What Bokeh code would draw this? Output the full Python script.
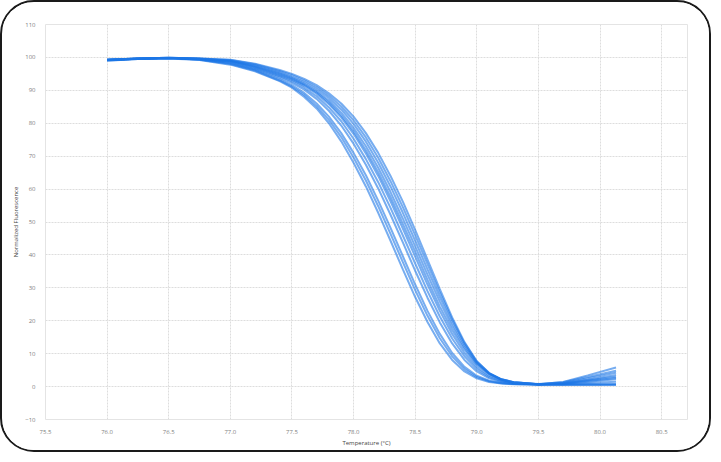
from bokeh.plotting import figure
from bokeh.embed import file_html
from bokeh.resources import INLINE
from bokeh.models import FixedTicker, NumeralTickFormatter, Range1d

# Temperature grid (°C)
temps = [76.0, 76.25, 76.5, 76.75,
         77.0, 77.2, 77.4, 77.5, 77.6, 77.7, 77.8, 77.9, 78.0, 78.1, 78.2,
         78.3, 78.4, 78.5, 78.6, 78.7, 78.8, 78.9, 79.0, 79.1, 79.2, 79.3,
         79.5, 79.7, 79.9, 80.13]

# Normalized fluorescence of each well
well_a = [99.0, 99.5, 99.7, 99.2,
          97.8, 95.8, 92.8, 90.8, 88.0, 84.5, 80.0, 74.5, 68.0, 60.8, 52.8,
          44.3, 35.6, 27.2, 19.6, 13.1, 8.1, 4.6, 2.5, 1.4, 0.9, 0.7,
          0.6, 0.5, 0.5, 0.5]
well_b1 = [99.1, 99.5, 99.8, 99.3,
           98.0, 96.0, 93.0, 91.1, 88.6, 85.2, 81.0, 75.8, 69.6, 62.6, 54.8,
           46.4, 37.8, 29.3, 21.5, 14.7, 9.2, 5.3, 2.9, 1.6, 1.0, 0.8,
           0.6, 0.6, 0.7, 0.8]
well_b2 = [99.2, 99.6, 99.8, 99.4,
           98.2, 96.3, 93.4, 91.6, 89.2, 86.0, 82.0, 77.0, 71.0, 64.2, 56.5,
           48.2, 39.6, 31.0, 23.0, 16.0, 10.2, 6.0, 3.3, 1.8, 1.1, 0.8,
           0.6, 0.7, 1.1, 1.5]
well_c1 = [99.2, 99.6, 99.8, 99.4,
           98.4, 96.5, 93.9, 92.3, 90.2, 87.4, 83.8, 79.3, 73.8, 67.4, 60.2,
           52.2, 43.8, 35.2, 27.0, 19.5, 13.1, 8.1, 4.6, 2.5, 1.4, 0.9,
           0.6, 0.8, 1.5, 2.2]
well_c2 = [99.2, 99.6, 99.8, 99.5,
           98.6, 96.8, 94.3, 92.8, 90.8, 88.2, 84.8, 80.6, 75.3, 69.1, 62.1,
           54.3, 45.9, 37.4, 29.0, 21.3, 14.6, 9.2, 5.3, 2.9, 1.6, 1.0,
           0.6, 0.9, 1.9, 3.0]
well_d1 = [99.2, 99.6, 99.8, 99.5,
           98.8, 97.0, 94.6, 93.2, 91.4, 89.0, 85.8, 81.8, 76.8, 70.8, 64.0,
           56.3, 48.0, 39.5, 31.0, 23.0, 16.0, 10.2, 6.0, 3.3, 1.8, 1.1,
           0.7, 1.0, 2.1, 3.5]
well_d2 = [99.3, 99.6, 99.8, 99.5,
           98.9, 97.2, 94.9, 93.5, 91.7, 89.4, 86.3, 82.4, 77.6, 71.8, 65.1,
           57.6, 49.4, 41.0, 32.4, 24.3, 17.2, 11.2, 6.7, 3.8, 2.1, 1.3,
           0.7, 1.1, 2.5, 4.2]
well_e1 = [99.3, 99.7, 99.8, 99.6,
           99.0, 97.4, 95.2, 93.8, 92.0, 89.8, 86.9, 83.2, 78.6, 73.0, 66.5,
           59.1, 51.0, 42.6, 34.0, 25.8, 18.3, 11.9, 7.0, 3.9, 2.1, 1.2,
           0.6, 0.6, 0.6, 0.6]
well_e2 = [99.3, 99.7, 99.9, 99.6,
           99.0, 97.6, 95.5, 94.1, 92.5, 90.4, 87.7, 84.2, 79.8, 74.4, 68.0,
           60.8, 52.8, 44.3, 35.6, 27.2, 19.4, 12.6, 7.3, 4.0, 2.2, 1.3,
           0.7, 0.9, 1.7, 2.6]
well_f = [99.3, 99.7, 99.9, 99.7,
          99.2, 97.9, 95.9, 94.6, 93.0, 91.0, 88.4, 85.1, 80.9, 75.7, 69.5,
          62.4, 54.5, 46.0, 37.2, 28.5, 20.4, 13.2, 7.6, 4.1, 2.2, 1.3,
          0.7, 1.4, 3.4, 5.8]
well_g = [99.3, 99.7, 99.9, 99.7,
          99.3, 98.1, 96.2, 95.0, 93.5, 91.6, 89.1, 86.0, 82.0, 77.0, 71.0,
          64.0, 56.2, 47.6, 38.6, 29.6, 21.0, 13.5, 7.7, 4.1, 2.2, 1.3,
          0.8, 1.3, 2.9, 4.8]

wells = [well_a, well_b1, well_b2, well_c1, well_c2, well_d1, well_d2,
         well_e1, well_e2, well_f, well_g]

x_ticks = [75.5, 76.0, 76.5, 77.0, 77.5, 78.0, 78.5, 79.0, 79.5, 80.0, 80.5]
y_ticks = [-10, 0, 10, 20, 30, 40, 50, 60, 70, 80, 90, 100, 110]

p = figure(width=711, height=452, output_backend="svg", toolbar_location=None,
           x_range=Range1d(75.5, 80.71), y_range=Range1d(-10, 110),
           min_border_left=43, min_border_right=26, min_border_top=22,
           min_border_bottom=35)

for w in wells:
    p.line(temps, w, line_color="#1c76e6", line_width=2.0, line_alpha=0.6)

p.xaxis.ticker = FixedTicker(ticks=x_ticks)
p.yaxis.ticker = FixedTicker(ticks=y_ticks)
p.xaxis.formatter = NumeralTickFormatter(format="0.0")
p.xaxis.axis_label = "Temperature (°C)"
p.yaxis.axis_label = "Normalized Fluorescence"

for ax in (p.xaxis[0], p.yaxis[0]):
    ax.axis_line_color = None
    ax.major_tick_line_color = None
    ax.minor_tick_line_color = None
    ax.major_label_text_font = "Open Sans"
    ax.major_label_text_font_size = "6px"
    ax.major_label_text_color = "#808080"
    ax.axis_label_text_font = "Open Sans"
    ax.axis_label_text_font_size = "6px"
    ax.axis_label_text_font_style = "normal"
    ax.axis_label_text_color = "#444444"
    ax.axis_label_standoff = 2
    ax.major_label_standoff = 4

p.xgrid.grid_line_color = "#dddddd"
p.ygrid.grid_line_color = "#dddddd"
p.xgrid.grid_line_dash = "2 1"
p.ygrid.grid_line_dash = "2 1"
p.outline_line_color = "#e4e4e4"
p.styles = {"border": "2px solid #1a1a1a", "border-radius": "34px",
            "overflow": "hidden"}

open("out.html", "w").write(file_html(p, INLINE))
